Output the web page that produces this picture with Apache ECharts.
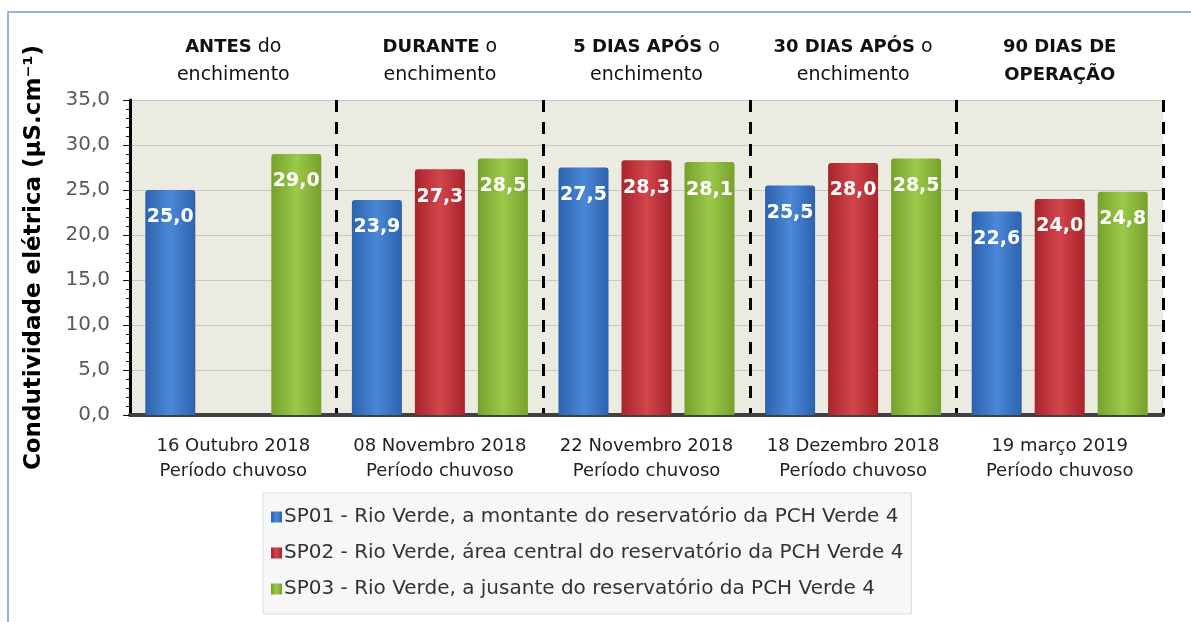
<!DOCTYPE html>
<html>
<head>
<meta charset="utf-8">
<script src="https://cdn.jsdelivr.net/npm/echarts@6/dist/echarts.min.js"></script>
<style>
  html, body { margin: 0; padding: 0; background: #fff; }
  #chart { width: 1191px; height: 622px; }
</style>
</head>
<body>
<div id="chart"></div>
<script>
// categorias (datas de coleta)
const categories = ['16 Outubro 2018\nPeríodo chuvoso', '08 Novembro 2018\nPeríodo chuvoso',
  '22 Novembro 2018\nPeríodo chuvoso', '18 Dezembro 2018\nPeríodo chuvoso', '19 março 2019\nPeríodo chuvoso']
// fase do enchimento (rótulos do topo)
const phases = ['{b|ANTES} do\nenchimento', '{b|DURANTE} o\nenchimento', '{b|5 DIAS APÓS} o\nenchimento',
  '{b|30 DIAS APÓS} o\nenchimento', '{b|90 DIAS DE}\n{b|OPERAÇÃO}']
const seriesNames = [
  'SP01 - Rio Verde, a montante do reservatório da PCH Verde 4',
  'SP02 - Rio Verde, área central do reservatório da PCH Verde 4',
  'SP03 - Rio Verde, a jusante do reservatório da PCH Verde 4'
]
const sp01 = [25.0, 23.9, 27.5, 25.5, 22.6]
const sp02 = [null, 27.3, 28.3, 28.0, 24.0]
const sp03 = [29.0, 28.5, 28.1, 28.5, 24.8]

const font = '"DejaVu Sans", sans-serif'

// gradiente lateral para dar o efeito de relevo
function barColor(dark, light) {
  return new echarts.graphic.LinearGradient(0, 0, 1, 0, [
    { offset: 0, color: dark },
    { offset: 0.5, color: light },
    { offset: 1, color: dark }
  ])
}
const colors = [
  barColor('#2d62ad', '#4a88d8'),
  barColor('#a8242b', '#d2454b'),
  barColor('#76a12c', '#9bc94a')
]
const legendColors = ['#3c78cc', '#c4353b', '#8cb83a']

function makeSeries(name, data, i) {
  return {
    name: name,
    type: 'bar',
    data: data,
    barWidth: 50,
    barGap: '26%',
    itemStyle: { color: colors[i], borderRadius: [3, 3, 0, 0] },
    label: {
      show: true,
      position: 'insideTop',
      distance: 18,
      color: '#fff',
      fontWeight: 'bold',
      fontSize: 19,
      fontFamily: font,
      formatter: (p) => p.value.toFixed(1).replace('.', ',')
    }
  }
}

const chart = echarts.init(document.getElementById('chart'))
const option = {
  animation: false,
  color: legendColors,
  graphic: [{
    type: 'rect',
    shape: { x: 8, y: 12, width: 1300, height: 800 },
    style: { fill: 'none', stroke: '#6f9fd4', lineWidth: 1.5 },
    z: -10
  }],
  grid: { left: 130, right: 28, top: 100, bottom: 207, backgroundColor: '#ecebe1', show: true, borderWidth: 0 },
  legend: {
    orient: 'vertical',
    left: 263,
    top: 493,
    padding: [14, 8, 15, 8],
    itemGap: 16,
    itemWidth: 11,
    itemHeight: 11,
    icon: 'rect',
    backgroundColor: '#f7f7f7',
    borderColor: '#dcdcdc',
    borderWidth: 1,
    textStyle: { fontSize: 20, color: '#333', fontFamily: font, padding: [0, 0, 0, -3] },
    data: seriesNames
  },
  xAxis: [{
    type: 'category',
    data: categories,
    axisLine: { lineStyle: { color: '#404040', width: 4 } },
    axisTick: { show: false },
    axisLabel: { interval: 0, color: '#222', fontSize: 18, fontFamily: font, lineHeight: 25, margin: 19 },
    splitLine: { show: true, interval: 0, lineStyle: { color: '#000', width: 3, type: [12, 10] } }
  }, {
    type: 'category',
    position: 'top',
    data: phases,
    axisLine: { show: false },
    axisTick: { show: false },
    axisLabel: {
      interval: 0, color: '#111', fontSize: 19, fontFamily: font, lineHeight: 28, margin: 11,
      rich: { b: { fontWeight: 'bold', fontSize: 18, fontFamily: font, lineHeight: 28 } }
    }
  }],
  yAxis: {
    type: 'value',
    min: 0,
    max: 35,
    interval: 5,
    name: 'Condutividade elétrica (µS.cm⁻¹)',
    nameLocation: 'middle',
    nameGap: 84,
    nameTextStyle: { fontSize: 23, fontWeight: 'bold', color: '#000', fontFamily: font },
    axisLine: { show: true, lineStyle: { color: '#000', width: 3 } },
    axisTick: { show: true, inside: false, length: 7, lineStyle: { color: '#111' } },
    minorTick: { show: true, splitNumber: 5, length: 4, lineStyle: { color: '#111' } },
    axisLabel: {
      color: '#595959', fontSize: 20, fontFamily: font, margin: 20,
      formatter: (v) => v.toFixed(1).replace('.', ',')
    },
    splitLine: { lineStyle: { color: '#c9c9c3', width: 1 } }
  },
  series: [
    makeSeries(seriesNames[0], sp01, 0),
    makeSeries(seriesNames[1], sp02, 1),
    makeSeries(seriesNames[2], sp03, 2)
  ]
}
chart.setOption(option)
</script>
</body>
</html>
